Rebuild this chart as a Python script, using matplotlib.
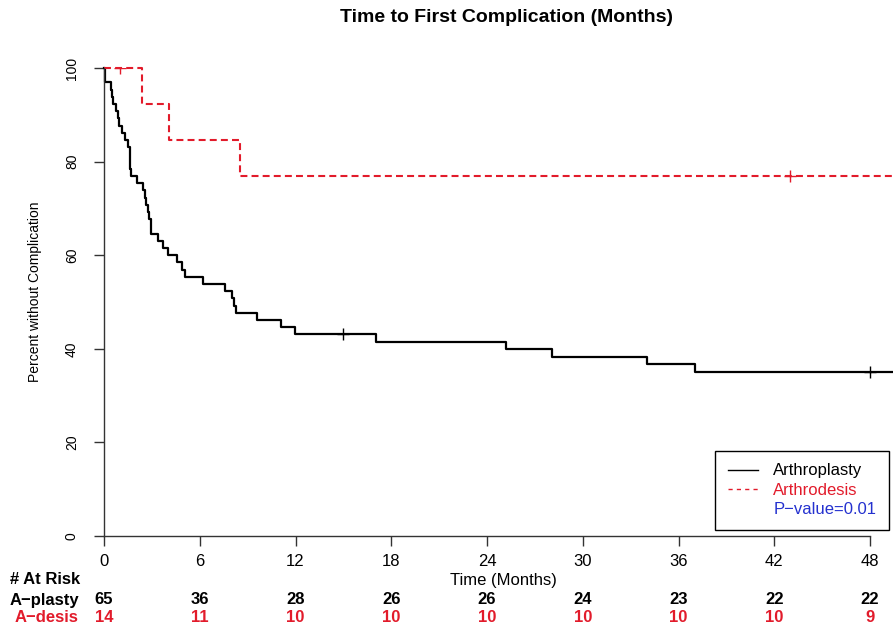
import matplotlib
matplotlib.use("Agg")
import matplotlib.pyplot as plt
from matplotlib.lines import Line2D
from matplotlib.transforms import blended_transform_factory

plt.rcParams['font.family'] = ['Liberation Sans', 'DejaVu Sans']
plt.rcParams['lines.scale_dashes'] = False

RED = '#e21b2b'
BLUE = '#2431cf'

# Arthroplasty: 65 patients, complication times (months) and censoring times
aplasty_n = 65
aplasty_events = [0.05, 0.05, 0.42, 0.50, 0.56, 0.77, 0.85, 0.92, 1.13, 1.34,
                  1.50, 1.60, 1.62, 1.65, 1.68, 2.09, 2.44, 2.55, 2.65, 2.75,
                  2.85, 2.92, 2.97, 3.40, 3.72, 4.03, 4.55, 4.87, 5.08, 6.18,
                  7.58, 8.00, 8.15, 8.30, 9.60, 11.10, 11.97, 17.04, 25.20,
                  28.10, 34.00, 37.00]
aplasty_censor = [15.0, 48.0]

# Arthrodesis: 14 patients
adesis_n = 14
adesis_events = [2.36, 4.07, 8.50]
adesis_censor = [1.0, 43.0]

follow_end = 52.0

# numbers at risk table
risk_times = [0, 6, 12, 18, 24, 30, 36, 42, 48]
risk_aplasty = [65, 36, 28, 26, 26, 24, 23, 22, 22]
risk_adesis = [14, 11, 10, 10, 10, 10, 10, 10, 9]


def km_curve(n, events, censors, t_end):
    xs, ys = [0.0], [100.0]
    s = 100.0
    for t in sorted(set(events)):
        at_risk = n - sum(e < t for e in events) - sum(c < t for c in censors)
        s *= 1 - events.count(t) / at_risk
        xs.append(t)
        ys.append(s)
    xs.append(t_end)
    ys.append(s)
    return xs, ys


def surv_at(xs, ys, t):
    val = ys[0]
    for x, y in zip(xs, ys):
        if x <= t:
            val = y
    return val


W, H = 893, 628
fig = plt.figure(figsize=(W / 100, H / 100), dpi=100)
ax = fig.add_axes([104 / W, (H - 536) / H, (W - 104) / W, 468 / H])

ax_x, ax_y = km_curve(aplasty_n, aplasty_events, aplasty_censor, follow_end)
ad_x, ad_y = km_curve(adesis_n, adesis_events, adesis_censor, follow_end)

ax.step(ax_x, ax_y, where='post', color='black', lw=1.6, clip_on=False)
ax.step(ad_x, ad_y, where='post', color=RED, lw=1.5, dashes=(5, 3), clip_on=False)

ax.plot(aplasty_censor, [surv_at(ax_x, ax_y, c) for c in aplasty_censor],
        ls='none', marker='+', ms=8, mew=1, color='black')
ax.plot(adesis_censor, [surv_at(ad_x, ad_y, c) for c in adesis_censor],
        ls='none', marker='+', ms=8, mew=1, color=RED)

ax.set_xlim(0, (W - 104) / 15.96)
ax.set_ylim(0, 100)
for side in ['top', 'right']:
    ax.spines[side].set_visible(False)
ax.spines['left'].set_bounds(0, 100)
ax.spines['bottom'].set_bounds(0, 48)
for side in ['left', 'bottom']:
    ax.spines[side].set_color('#333333')
    ax.spines[side].set_linewidth(1)

ax.set_xticks(risk_times)
ax.set_yticks([0, 20, 40, 60, 80, 100])
ax.set_yticklabels(['0', '20', '40', '60', '80', '100'], rotation=90, va='center')
ax.tick_params(axis='x', length=7, width=1, color='#333333', labelsize=12, pad=6)
ax.tick_params(axis='y', length=7, width=1, color='#333333', labelsize=10, pad=11)

# legend
handles = [Line2D([], [], color='black', lw=1),
           Line2D([], [], color=RED, lw=1, dashes=(3, 3)),
           Line2D([], [], color='none')]
leg = ax.legend(handles, ['Arthroplasty', 'Arthrodesis', 'P\u2212value=0.01'],
                loc='upper left', bbox_to_anchor=(715 / W, 1 - 451 / H),
                bbox_transform=fig.transFigure, borderaxespad=0,
                fontsize=12, handlelength=1.8, handletextpad=0.95,
                borderpad=0.75, labelspacing=0.27, fancybox=False,
                framealpha=1, edgecolor='black')
leg.get_frame().set_linewidth(1)
for txt, col in zip(leg.get_texts(), ['black', RED, BLUE]):
    txt.set_color(col)

fig.text(506 / W, 1 - 18 / H, 'Time to First Complication (Months)',
         ha='center', va='center', fontsize=14, fontweight='bold')
fig.text(35 / W, 1 - 292 / H, 'Percent without Complication',
         ha='center', va='center', rotation=90, fontsize=10)
fig.text(503 / W, 1 - 580 / H, 'Time (Months)', ha='center', va='center', fontsize=12)

# number at risk table
fig.text(10 / W, 1 - 580 / H, '# At Risk', ha='left', va='center',
         fontsize=12, fontweight='bold')
fig.text(10 / W, 1 - 600 / H, 'A\u2212plasty', ha='left', va='center',
         fontsize=12, fontweight='bold')
fig.text(15 / W, 1 - 618 / H, 'A\u2212desis', ha='left', va='center',
         fontsize=12, fontweight='bold', color=RED)
trans = blended_transform_factory(ax.transData, fig.transFigure)
for t, a, d in zip(risk_times, risk_aplasty, risk_adesis):
    ax.text(t, 1 - 600 / H, str(a), transform=trans, ha='center', va='center',
            fontsize=12, fontweight='bold', clip_on=False)
    ax.text(t, 1 - 618 / H, str(d), transform=trans, ha='center', va='center',
            fontsize=12, fontweight='bold', color=RED, clip_on=False)

fig.savefig('out.png', dpi=100)
